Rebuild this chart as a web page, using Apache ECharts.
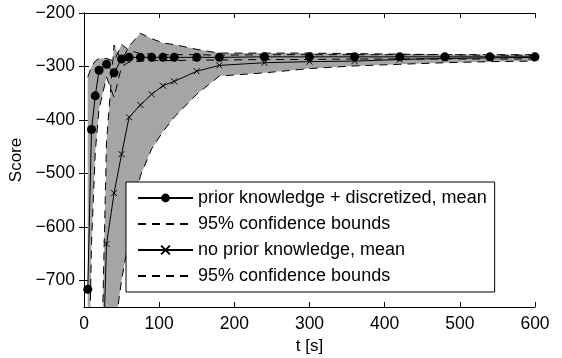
<!DOCTYPE html>
<html>
<head>
<meta charset="utf-8">
<script src="https://cdn.jsdelivr.net/npm/echarts@6/dist/echarts.min.js"></script>
<style>
  html, body { margin: 0; padding: 0; background: #fff; }
  #main { width: 562px; height: 358px; }
</style>
</head>
<body>
<div id="main"></div>
<script>
// sampling times [s]
const times = [5, 10, 15, 20, 30, 40, 50, 60, 75, 90, 105, 120, 150, 180, 240, 300, 360, 420, 480, 540, 600];

// prior knowledge + discretized
const priorMean  = [-717, -418, -355, -307, -296, -312, -286, -283, -283, -283, -283, -283, -283, -283, -282, -282, -282, -282, -282, -282, -282];
const priorUpper = [-320, -300, -290, -285, -285, -290, -259, -270, -276, -277, -278, -278, -278, -279, -278, -278, -278, -278, -278, -278, -278];
const priorLower = [-1000, -630, -460, -380, -320, -358, -300, -292, -290, -289, -289, -289, -288, -288, -287, -287, -286, -286, -286, -286, -286];

// no prior knowledge
const noPriorMean  = [-1800, -1500, -1300, -1100, -632, -537, -464, -395, -372, -352, -336, -328, -309, -298, -293, -291, -290, -287, -285, -284, -283];
const noPriorUpper = [-1500, -1300, -1150, -1060, -440, -260, -290, -262, -238, -248, -256, -259, -268, -275, -275, -275, -276, -277, -278, -279, -279];
const noPriorLower = [-2000, -1800, -1600, -1400, -1000, -800, -700, -620, -505, -454, -422, -395, -352, -318, -312, -304, -299, -296, -293, -291, -290];

const xTicks = [0, 100, 200, 300, 400, 500, 600];
const yTicks = [-700, -600, -500, -400, -300, -200];

const FONT = 'Liberation Sans';
const GRAY = '#a5a5a5';

const pairs = (arr) => times.map((t, i) => [t, arr[i]]);

// keep the part of a polygon that lies between two horizontal pixel lines
function clipY(pts, top, bottom) {
  const cut = (poly, inside, yEdge) => {
    const out = [];
    for (let i = 0; i < poly.length; i++) {
      const a = poly[i], b = poly[(i + 1) % poly.length];
      const ia = inside(a), ib = inside(b);
      if (ia) out.push(a);
      if (ia !== ib) {
        const k = (yEdge - a[1]) / (b[1] - a[1]);
        out.push([a[0] + k * (b[0] - a[0]), yEdge]);
      }
    }
    return out;
  };
  let p = cut(pts, (q) => q[1] >= top, top);
  p = cut(p, (q) => q[1] <= bottom, bottom);
  return p;
}

function band(up, lo) {
  return {
    type: 'custom', silent: true, z: 1,
    data: [[times[0], up[0]]],
    renderItem: (params, api) => {
      const pts = [];
      times.forEach((t, i) => pts.push(api.coord([t, up[i]])));
      for (let i = times.length - 1; i >= 0; i--) pts.push(api.coord([times[i], lo[i]]));
      const cs = params.coordSys;
      return {
        type: 'polygon',
        shape: { points: clipY(pts, cs.y, cs.y + cs.height) },
        style: { fill: GRAY, stroke: null }
      };
    }
  };
}

function bound(name, arr) {
  return {
    name: name, type: 'line', data: pairs(arr), symbol: 'none',
    lineStyle: { color: '#000', width: 1, type: [8, 6] },
    itemStyle: { color: '#000' }, z: 2
  };
}

const minusFmt = (v) => String(v).replace('-', '\u2212');

const chart = echarts.init(document.getElementById('main'));
chart.setOption({
  animation: false,
  backgroundColor: '#fff',
  textStyle: { fontFamily: FONT },
  grid: { left: 84, right: 27, top: 13, bottom: 51, outerBoundsMode: 'none' },
  legend: {
    data: [
      { name: 'prior knowledge + discretized, mean' },
      { name: '95% confidence bounds', itemStyle: { opacity: 0 } },
      { name: 'no prior knowledge, mean' },
      { name: '95% confidence bounds ', itemStyle: { opacity: 0 } }
    ],
    orient: 'vertical', left: 126, top: 182,
    backgroundColor: '#fff', borderColor: '#000', borderWidth: 1,
    padding: [7, 8, 7, 11], itemGap: 8, itemWidth: 55, itemHeight: 11,
    selectedMode: false,
    textStyle: { fontFamily: FONT, fontSize: 18, color: '#000' }
  },
  xAxis: [
    {
      type: 'value', min: 0, max: 600, interval: 100,
      name: 't [s]', nameLocation: 'middle', nameGap: 28,
      nameTextStyle: { fontFamily: FONT, fontSize: 17, color: '#000' },
      axisLine: { lineStyle: { color: '#000', width: 1 } },
      axisTick: { inside: true, length: 5, lineStyle: { color: '#000' }, customValues: xTicks },
      axisLabel: { fontFamily: FONT, fontSize: 17.5, color: '#000', margin: 8, customValues: xTicks },
      splitLine: { show: false }
    },
    {
      type: 'value', position: 'top', min: 0, max: 600, interval: 100,
      axisLine: { lineStyle: { color: '#000', width: 1 } },
      axisTick: { inside: true, length: 5, lineStyle: { color: '#000' }, customValues: xTicks },
      axisLabel: { show: false },
      splitLine: { show: false }
    }
  ],
  yAxis: [
    {
      type: 'value', min: -750, max: -200, interval: 50,
      name: 'Score', nameLocation: 'middle', nameGap: 53,
      nameTextStyle: { fontFamily: FONT, fontSize: 17, color: '#000' },
      axisLine: { show: true, lineStyle: { color: '#000', width: 1 } },
      axisTick: { show: true, inside: true, length: 5, lineStyle: { color: '#000' }, customValues: yTicks },
      axisLabel: { fontFamily: FONT, fontSize: 17.5, color: '#000', margin: 9, formatter: minusFmt, customValues: yTicks },
      splitLine: { show: false }
    },
    {
      type: 'value', position: 'right', min: -750, max: -200, interval: 50,
      axisLine: { show: true, lineStyle: { color: '#000', width: 1 } },
      axisTick: { show: true, inside: true, length: 5, lineStyle: { color: '#000' }, customValues: yTicks },
      axisLabel: { show: false },
      splitLine: { show: false }
    }
  ],
  series: [
    band(noPriorUpper, noPriorLower),
    band(priorUpper, priorLower),
    bound('95% confidence bounds', priorUpper),
    bound('95% confidence bounds', priorLower),
    bound('95% confidence bounds ', noPriorUpper),
    bound('95% confidence bounds ', noPriorLower),
    {
      name: 'no prior knowledge, mean', type: 'line', data: pairs(noPriorMean),
      symbol: 'path://M0,0L10,10M10,0L0,10', symbolSize: 6,
      lineStyle: { color: '#000', width: 1 },
      itemStyle: { color: '#000', borderColor: '#000', borderWidth: 1 }, z: 3
    },
    {
      name: 'prior knowledge + discretized, mean', type: 'line', data: pairs(priorMean),
      symbol: 'circle', symbolSize: 9,
      lineStyle: { color: '#000', width: 1 },
      itemStyle: { color: '#000' }, z: 4
    }
  ]
});
</script>
</body>
</html>
